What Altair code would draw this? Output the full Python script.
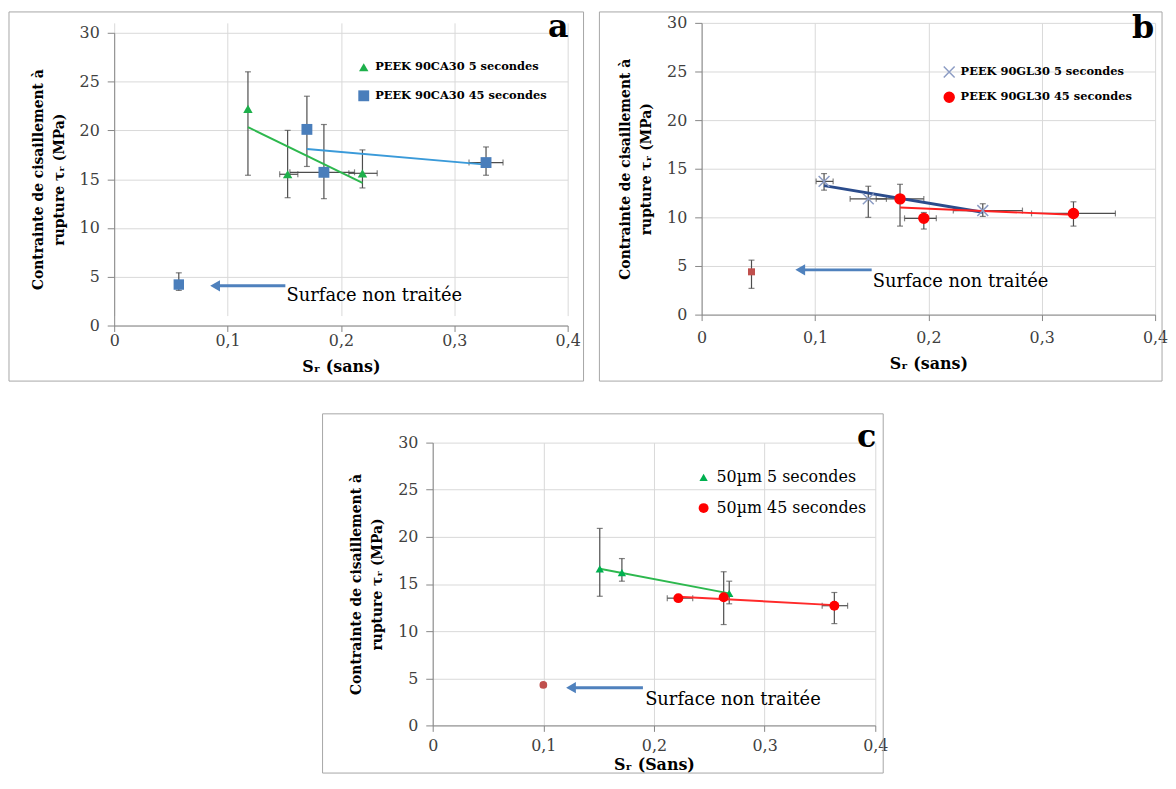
import altair as alt
import pandas as pd

FONT = "DejaVu Serif"

# ---------------- data ----------------
X_TICKS = [0, 0.1, 0.2, 0.3, 0.4]
Y_TICKS = [0, 5, 10, 15, 20, 25, 30]

# Panel a
a_names = ["PEEK 90CA30 5 secondes", "PEEK 90CA30 45 secondes"]
a5_x = [0.118, 0.153, 0.219]
a5_y = [22.2, 15.5, 15.6]
a5_ylo = [15.4, 13.1, 14.1]
a5_yhi = [26.0, 20.0, 18.0]
a5_xlo = [0.118, 0.146, 0.207]
a5_xhi = [0.118, 0.162, 0.232]
a45_x = [0.170, 0.185, 0.328]
a45_y = [20.1, 15.7, 16.7]
a45_ylo = [16.3, 13.0, 15.4]
a45_yhi = [23.5, 20.6, 18.3]
a45_xlo = [0.167, 0.155, 0.313]
a45_xhi = [0.173, 0.212, 0.343]
a_ref = dict(x=[0.057], y=[4.2], ylo=[3.6], yhi=[5.4], xlo=[0.057], xhi=[0.057])
a_arrow = dict(x1=[0.089], x2=[0.151], ay=[4.07])
a_note = dict(x=[0.152], y=[3.05], t=["Surface non traitée"])

# Panel b
b_names = ["PEEK 90GL30 5 secondes", "PEEK 90GL30 45 secondes"]
b5_x = [0.108, 0.147, 0.248]
b5_y = [13.7, 11.9, 10.7]
b5_ylo = [12.8, 10.0, 10.1]
b5_yhi = [14.5, 13.2, 11.4]
b5_xlo = [0.101, 0.131, 0.222]
b5_xhi = [0.116, 0.163, 0.283]
b45_x = [0.175, 0.196, 0.328]
b45_y = [11.9, 9.9, 10.4]
b45_ylo = [9.1, 8.8, 9.1]
b45_yhi = [13.4, 10.5, 11.6]
b45_xlo = [0.154, 0.179, 0.291]
b45_xhi = [0.196, 0.207, 0.365]
b_ref = dict(x=[0.044], y=[4.4], ylo=[2.7], yhi=[5.6], xlo=[0.044], xhi=[0.044])
b_arrow = dict(x1=[0.087], x2=[0.150], ay=[4.6])
b_note = dict(x=[0.151], y=[3.37], t=["Surface non traitée"])

# Panel c
c_names = ["50µm 5 secondes", "50µm 45 secondes"]
c5_x = [0.151, 0.171, 0.268]
c5_y = [16.6, 16.2, 14.0]
c5_ylo = [13.7, 15.3, 12.9]
c5_yhi = [20.9, 17.7, 15.3]
c5_xlo = [0.151, 0.171, 0.268]
c5_xhi = [0.151, 0.171, 0.268]
c45_x = [0.222, 0.263, 0.363]
c45_y = [13.5, 13.6, 12.7]
c45_ylo = [13.5, 10.7, 10.8]
c45_yhi = [13.5, 16.3, 14.1]
c45_xlo = [0.212, 0.263, 0.352]
c45_xhi = [0.235, 0.263, 0.375]
c_ref = dict(x=[0.100], y=[4.3], ylo=[4.1], yhi=[4.5], xlo=[0.100], xhi=[0.100])
c_arrow = dict(x1=[0.125], x2=[0.190], ay=[4.0])
c_note = dict(x=[0.192], y=[2.74], t=["Surface non traitée"])

ERR = "#4D4D4D"
ARROW = "#4F81BD"
FRAME = "#A6A6A6"


def sdf(name, x, y, ylo, yhi, xlo, xhi):
    return pd.DataFrame({"series": name, "x": x, "y": y, "ylo": ylo,
                         "yhi": yhi, "xlo": xlo, "xhi": xhi})


def panel(cfg):
    w, h = cfg["w"], cfg["h"]
    top_gap = cfg.get("top_gap", 0)
    vh = h + top_gap
    xs = alt.Scale(domain=[0, 0.4], nice=False, zero=False)
    ys = alt.Scale(domain=[0, 30], nice=False, range=[vh, top_gap])
    xaxis = alt.Axis(values=X_TICKS, grid=True, tickSize=6,
                     labelExpr="replace(format(datum.value, '.1~f'), '.', ',')",
                     labelPadding=cfg["xlabpad"], labelFlush=False,
                     title=cfg["xtitle"], titleFontSize=16, titlePadding=cfg["xtitlepad"])
    yaxis = alt.Axis(values=Y_TICKS, grid=True, tickSize=7, labelPadding=8,
                     title=["Contrainte de cisaillement à", "rupture τᵣ (MPa)"],
                     titleFontSize=14, titleLineHeight=21, titlePadding=13)

    def X(f):
        return alt.X(f, type="quantitative", scale=xs, axis=xaxis)

    def Y(f):
        return alt.Y(f, type="quantitative", scale=ys, axis=yaxis)

    s5, s45 = cfg["s5"], cfg["s45"]
    pts = pd.concat([s5, s45], ignore_index=True)
    ref = pd.DataFrame(cfg["ref"])
    errs = pd.concat([pts, ref], ignore_index=True)
    one = pd.DataFrame({"k": [0]})

    fl, fr, ft, fb = cfg["frame"]
    layers = []
    layers.append(alt.Chart(one).mark_rect(fill="white", fillOpacity=0, stroke=FRAME, strokeWidth=1)
                  .encode(x=alt.value(fl), x2=alt.value(fr), y=alt.value(ft), y2=alt.value(fb)))
    # vertical error bars
    layers.append(alt.Chart(errs).mark_rule(color=ERR, strokeWidth=1.2)
                  .encode(x=X("x"), y=Y("ylo"), y2="yhi"))
    layers.append(alt.Chart(errs).transform_fold(["ylo", "yhi"], as_=["k", "v"])
                  .mark_tick(orient="horizontal", size=6, thickness=1.2, color=ERR)
                  .encode(x=X("x"), y=Y("v:Q")))
    # horizontal error bars
    layers.append(alt.Chart(errs).transform_filter("datum.xhi > datum.xlo")
                  .mark_rule(color=ERR, strokeWidth=1.2)
                  .encode(x=X("xlo"), x2="xhi", y=Y("y")))
    layers.append(alt.Chart(errs).transform_filter("datum.xhi > datum.xlo")
                  .transform_fold(["xlo", "xhi"], as_=["k", "v"])
                  .mark_tick(orient="vertical", size=6, thickness=1.2, color=ERR)
                  .encode(x=X("v:Q"), y=Y("y")))
    # trend lines (linear regressions)
    for sd, col, sw in ((s5, cfg["trend"][0], cfg["tw"][0]), (s45, cfg["trend"][1], cfg["tw"][1])):
        layers.append(alt.Chart(sd).transform_regression("x", "y")
                      .mark_line(color=col, strokeWidth=sw)
                      .encode(x=X("x"), y=Y("y")))
    # points
    names = cfg["names"]
    leg = alt.Legend(orient="none", legendX=cfg["leg"][0], legendY=cfg["leg"][1], title=None,
                     labelFont=FONT, labelFontSize=cfg["legfs"], labelFontWeight=cfg["legfw"],
                     labelColor="#000000", symbolSize=cfg["legsym"], rowPadding=cfg["legrow"],
                     labelOffset=5, symbolStrokeWidth=1.5, labelLimit=400)
    enc = dict(
        x=X("x"), y=Y("y"),
        color=alt.Color("series:N", scale=alt.Scale(domain=names, range=cfg["colors"]), legend=leg),
        shape=alt.Shape("series:N", scale=alt.Scale(domain=names, range=cfg["shapes"]), legend=leg),
        size=alt.Size("series:N", scale=alt.Scale(domain=names, range=cfg["sizes"]), legend=None),
    )
    if cfg.get("stroke"):
        enc["stroke"] = alt.Stroke("series:N", scale=alt.Scale(domain=names, range=cfg["colors"]), legend=leg)
    layers.append(alt.Chart(pts).mark_point(filled=True, opacity=1, strokeWidth=1.5).encode(**enc))
    # untreated surface point
    layers.append(alt.Chart(ref).mark_point(filled=True, opacity=1, shape=cfg["refshape"],
                                            size=cfg["refsize"], color=cfg["refcolor"])
                  .encode(x=X("x"), y=Y("y")))
    # arrow + annotation
    arr = pd.DataFrame(cfg["arrow"])
    layers.append(alt.Chart(arr).mark_rule(color=ARROW, strokeWidth=3)
                  .encode(x=X("x1"), x2="x2", y=Y("ay")))
    layers.append(alt.Chart(arr).mark_point(shape="triangle-left", filled=True, opacity=1,
                                            size=130, color=ARROW)
                  .encode(x=X("x1"), y=Y("ay")))
    note = pd.DataFrame(cfg["note"])
    layers.append(alt.Chart(note).mark_text(align="left", baseline="middle", font=FONT,
                                            fontSize=18, color="#000000")
                  .encode(x=X("x"), y=Y("y"), text="t:N"))
    # panel letter
    lx, ly = cfg["letter_pos"]
    layers.append(alt.Chart(one).mark_text(align="right", baseline="top", font=FONT,
                                           fontSize=32, fontWeight="bold", color="#000000")
                  .encode(x=alt.value(lx), y=alt.value(ly), text=alt.value(cfg["letter"])))
    return alt.layer(*layers).properties(width=w, height=vh)


pa = panel(dict(
    w=457, h=295, top_gap=10, names=a_names,
    s5=sdf(a_names[0], a5_x, a5_y, a5_ylo, a5_yhi, a5_xlo, a5_xhi),
    s45=sdf(a_names[1], a45_x, a45_y, a45_ylo, a45_yhi, a45_xlo, a45_xhi),
    ref=a_ref, arrow=a_arrow, note=a_note,
    colors=["#1DB04B", "#4A7EBB"], shapes=["triangle-up", "square"], sizes=[90, 120],
    trend=["#2DB84E", "#3A9AD9"], tw=[2, 2],
    refshape="square", refsize=110, refcolor="#4A7EBB",
    leg=(245, 39), legfs=11.5, legfw="bold", legsym=60, legrow=16,
    xtitle="Sᵣ (sans)", xlabpad=1, xtitlepad=10,
    frame=(-106, 473, -11, 361), letter="a", letter_pos=(458, -11),
))

pb = panel(dict(
    w=457, h=294, names=b_names,
    s5=sdf(b_names[0], b5_x, b5_y, b5_ylo, b5_yhi, b5_xlo, b5_xhi),
    s45=sdf(b_names[1], b45_x, b45_y, b45_ylo, b45_yhi, b45_xlo, b45_xhi),
    ref=b_ref, arrow=b_arrow, note=b_note,
    colors=["#8C9CC4", "#FF0000"], shapes=["M-1,-1L1,1M-1,1L1,-1", "circle"], sizes=[120, 100],
    trend=["#2B4C8C", "#FF2020"], tw=[3, 2], stroke=True,
    refshape="square", refsize=50, refcolor="#C0504D",
    leg=(243, 43), legfs=11.5, legfw="bold", legsym=70, legrow=9,
    xtitle="Sᵣ (sans)", xlabpad=9, xtitlepad=10,
    frame=(-103, 464, -11, 361), letter="b", letter_pos=(456, -10),
))

pc = panel(dict(
    w=446, h=285, names=c_names,
    s5=sdf(c_names[0], c5_x, c5_y, c5_ylo, c5_yhi, c5_xlo, c5_xhi),
    s45=sdf(c_names[1], c45_x, c45_y, c45_ylo, c45_yhi, c45_xlo, c45_xhi),
    ref=c_ref, arrow=c_arrow, note=c_note,
    colors=["#00B050", "#FF0000"], shapes=["triangle-up", "circle"], sizes=[70, 100],
    trend=["#2DB84E", "#FF2A2A"], tw=[2, 2],
    refshape="circle", refsize=60, refcolor="#C0504D",
    leg=(265, 27), legfs=16, legfw="normal", legsym=60, legrow=15,
    xtitle="Sᵣ (Sans)", xlabpad=6, xtitlepad=3,
    frame=(-111, 454, -29, 333), letter="c", letter_pos=(447, -21),
))

blank = (alt.Chart(pd.DataFrame({"k": [0]})).mark_point(opacity=0)
         .encode(x=alt.value(0), y=alt.value(0)).properties(width=209, height=10))

IND = dict(color="independent", shape="independent", size="independent", stroke="independent")
top = alt.hconcat(pa, pb, spacing=14).resolve_scale(**IND)
bottom = alt.hconcat(blank, pc, spacing=0).resolve_scale(**IND)
chart = (alt.vconcat(top, bottom, spacing=31)
         .resolve_scale(**IND)
         .properties(padding=0)
         .configure_view(stroke=None)
         .configure_axis(gridColor="#D9D9D9", domainColor="#868686", tickColor="#868686",
                         labelFont=FONT, labelFontSize=16, labelColor="#404040",
                         titleFont=FONT, titleFontWeight="bold", titleColor="#000000"))

chart.save("out.html", embed_options={"renderer": "svg", "actions": False})
